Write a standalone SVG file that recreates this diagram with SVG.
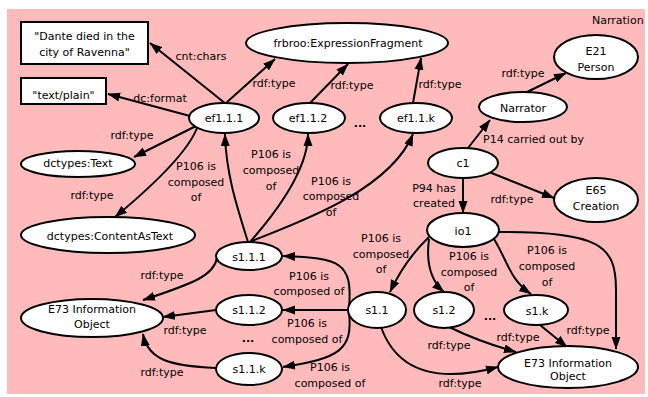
<svg xmlns="http://www.w3.org/2000/svg" width="648" height="397" viewBox="0 0 648 397">
<defs>
<marker id="arr" markerUnits="userSpaceOnUse" markerWidth="13" markerHeight="10" refX="12" refY="5" orient="auto">
<path d="M0,0.5 L12.5,5 L0,9.5 z" fill="#000"/>
</marker>
<style>
.n{fill:#fff;stroke:#000;stroke-width:2}
.e{fill:none;stroke:#000;stroke-width:2;marker-end:url(#arr)}
text{font-family:"DejaVu Sans",Verdana,sans-serif;font-size:11px;fill:#000}
.m{text-anchor:middle}
.d{font-weight:bold}
</style>
</defs>
<rect x="7" y="9" width="638" height="385" fill="#FFBBBB"/>
<text x="592" y="24">Narration</text>

<g id="connectors">
<path class="e" d="M226,104 L150,43"/>
<text class="m" x="201" y="60">cnt:chars</text>
<path class="e" d="M190,116 L108,94"/>
<text class="m" x="160" y="102">dc:format</text>
<path class="e" d="M226,103 L275,59"/>
<text class="m" x="274" y="87">rdf:type</text>
<path class="e" d="M310,103 L348,64"/>
<text class="m" x="352" y="89">rdf:type</text>
<path class="e" d="M413,103 L421,58"/>
<text class="m" x="440" y="88">rdf:type</text>
<path class="e" d="M196,126 L134,157"/>
<text class="m" x="132" y="139">rdf:type</text>
<path class="e" d="M197,128 Q185,159 115,217"/>
<text class="m" x="92" y="199">rdf:type</text>
<path class="e" d="M248,242 C238,210 226,175 225,134"/>
<text class="m" x="196" y="170">P106 is</text>
<text class="m" x="196" y="185.5">composed</text>
<text class="m" x="196" y="201">of</text>
<path class="e" d="M250,242 Q308,176 308,134"/>
<text class="m" x="271" y="158">P106 is</text>
<text class="m" x="271" y="174">composed</text>
<text class="m" x="271" y="190">of</text>
<path class="e" d="M252,241 C300,222 390,190 413,134"/>
<text class="m" x="331" y="184.5">P106 is</text>
<text class="m" x="331" y="200">composed</text>
<text class="m" x="331" y="215.5">of</text>
<path class="e" d="M527,92 L566,73"/>
<text class="m" x="523" y="77">rdf:type</text>
<path class="e" d="M468,148 L490,120"/>
<text x="483" y="143">P14 carried out by</text>
<path class="e" d="M489,172 L554,198"/>
<text class="m" x="512" y="203">rdf:type</text>
<path class="e" d="M463,178 L463,213"/>
<text class="m" x="434" y="191.5">P94 has</text>
<text class="m" x="434" y="207">created</text>
<path class="e" d="M429,237 Q405,260 390,292"/>
<text class="m" x="381" y="242">P106 is</text>
<text class="m" x="381" y="257.5">composed</text>
<text class="m" x="381" y="273">of</text>
<path class="e" d="M429,239 C426,262 430,280 444,292"/>
<text class="m" x="469" y="260">P106 is</text>
<text class="m" x="469" y="275.5">composed</text>
<text class="m" x="469" y="291">of</text>
<path class="e" d="M494,239 C508,262 510,280 531,294"/>
<text class="m" x="547" y="254">P106 is</text>
<text class="m" x="547" y="270">composed</text>
<text class="m" x="547" y="286">of</text>
<path class="e" d="M498,232 C600,232 616,245 616,290 L616,349"/>
<text class="m" x="588" y="334">rdf:type</text>
<path class="e" d="M349,308 C353,262 340,258 283,256"/>
<text class="m" x="309" y="280">P106 is</text>
<text class="m" x="309" y="295">composed of</text>
<path class="e" d="M348,310 L283,310"/>
<text class="m" x="307" y="327">P106 is</text>
<text class="m" x="307" y="342.5">composed of</text>
<path class="e" d="M349,312 C353,350 340,358 283,367"/>
<text class="m" x="330" y="371">P106 is</text>
<text class="m" x="330" y="386.5">composed of</text>
<path class="e" d="M381,327 C400,380 450,380 498,367"/>
<text class="m" x="460" y="387">rdf:type</text>
<path class="e" d="M449,327 Q480,342 516,352"/>
<text class="m" x="449" y="349">rdf:type</text>
<path class="e" d="M540,325 L567,347"/>
<text class="m" x="518" y="341">rdf:type</text>
<path class="e" d="M217,258 C214,275 195,283 143,300"/>
<text class="m" x="162" y="279">rdf:type</text>
<path class="e" d="M216,310 L163,317"/>
<text class="m" x="185" y="334">rdf:type</text>
<path class="e" d="M216,368 C170,366 148,360 143,334"/>
<text class="m" x="162" y="376">rdf:type</text>
</g>

<g id="dante"><rect class="n" x="21" y="22" width="127" height="42"/>
<text class="m" x="84.5" y="40">"Dante died in the</text>
<text class="m" x="84.5" y="56">city of Ravenna"</text></g>
<g id="textplain"><rect class="n" x="21" y="78" width="85" height="26"/>
<text class="m" x="63.5" y="99">"text/plain"</text></g>
<g id="frbroo"><ellipse class="n" cx="347" cy="43" rx="101" ry="20"/>
<text class="m" x="348" y="47">frbroo:ExpressionFragment</text></g>
<g id="ef111"><ellipse class="n" cx="224" cy="118" rx="35" ry="15"/>
<text class="m" x="224" y="122">ef1.1.1</text></g>
<g id="ef112"><ellipse class="n" cx="309" cy="118" rx="36" ry="15"/>
<text class="m" x="308" y="122">ef1.1.2</text></g>
<text class="m d" x="360" y="127">...</text>
<g id="ef11k"><ellipse class="n" cx="416" cy="118" rx="36" ry="15"/>
<text class="m" x="416" y="122">ef1.1.k</text></g>
<g id="e21"><ellipse class="n" cx="596" cy="57" rx="42" ry="22"/>
<text class="m" x="596" y="55">E21</text>
<text class="m" x="596" y="70.5">Person</text></g>
<g id="narrator"><ellipse class="n" cx="523" cy="107" rx="44" ry="15"/>
<text class="m" x="523" y="111.5">Narrator</text></g>
<g id="c1"><ellipse class="n" cx="463" cy="163" rx="35" ry="15"/>
<text class="m" x="463" y="167">c1</text></g>
<g id="e65"><ellipse class="n" cx="596" cy="200" rx="42" ry="22"/>
<text class="m" x="596" y="194">E65</text>
<text class="m" x="596" y="210">Creation</text></g>
<g id="io1"><ellipse class="n" cx="463" cy="230" rx="36" ry="17"/>
<text class="m" x="463" y="235">io1</text></g>
<g id="dctext"><ellipse class="n" cx="78" cy="164" rx="57" ry="13"/>
<text class="m" x="78" y="167">dctypes:Text</text></g>
<g id="dccontent"><ellipse class="n" cx="108" cy="235" rx="87" ry="18"/>
<text class="m" x="110" y="240">dctypes:ContentAsText</text></g>
<g id="s111"><ellipse class="n" cx="249" cy="256" rx="33" ry="14"/>
<text class="m" x="249" y="261">s1.1.1</text></g>
<g id="s112"><ellipse class="n" cx="249" cy="310" rx="33" ry="15"/>
<text class="m" x="249" y="314">s1.1.2</text></g>
<text class="m d" x="248" y="342">...</text>
<g id="s11k"><ellipse class="n" cx="249" cy="369" rx="33" ry="16"/>
<text class="m" x="249" y="373">s1.1.k</text></g>
<g id="s11"><ellipse class="n" cx="377" cy="310" rx="29" ry="18"/>
<text class="m" x="377" y="314">s1.1</text></g>
<g id="s12"><ellipse class="n" cx="444" cy="310" rx="30" ry="18"/>
<text class="m" x="444" y="314">s1.2</text></g>
<text class="m d" x="490" y="320">...</text>
<g id="s1k"><ellipse class="n" cx="536" cy="310" rx="32" ry="15"/>
<text class="m" x="537" y="314.5">s1.k</text></g>
<g id="e73r"><ellipse class="n" cx="568" cy="367" rx="70" ry="21"/>
<text class="m" x="568" y="366.5">E73 Information</text>
<text class="m" x="568" y="380">Object</text></g>
<g id="e73l"><ellipse class="n" cx="92" cy="318" rx="71" ry="19"/>
<text class="m" x="92" y="313">E73 Information</text>
<text class="m" x="92" y="327.5">Object</text></g>
</svg>
